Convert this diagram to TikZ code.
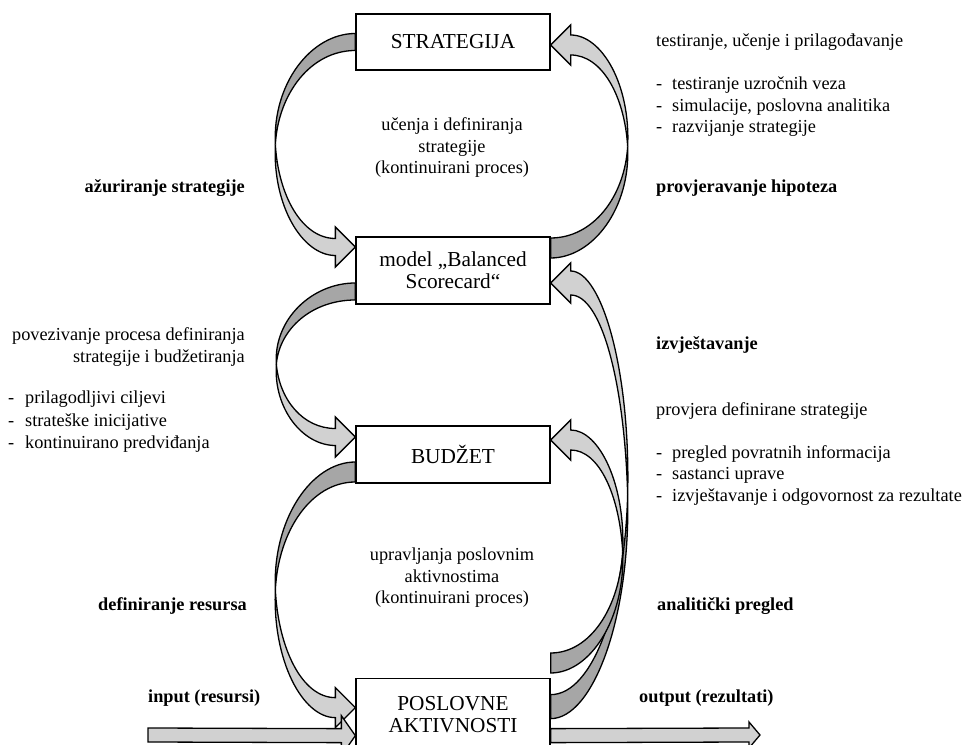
\documentclass[tikz,border=0pt]{standalone}
\usepackage{fontspec}
\setmainfont{Liberation Serif}
\usetikzlibrary{calc}
\definecolor{bandlight}{gray}{0.82}
\definecolor{banddark}{gray}{0.65}
% curved band arrow: #1 tail, #2 tip, #3 bulge (neg = left), #4 1 = up / -1 = down, #5 half width
\newcommand\ribbon[5]{%
  \path let \p1 = (#1), \p2 = (#2),
    \n1 = {#4}, \n2 = {(#3)/abs(#3)}, \n3 = {\x1+(#3)},
    \n4 = {(\y1+\y2)/2}, \n5 = {\x2+(\n2)*20}
  in coordinate (rA) at (\x1, {\y1-(\n1)*(#5)})
     coordinate (rB) at (\x1, {\y1+(\n1)*(#5)})
     coordinate (rX) at (\n3, \n4)
     coordinate (rHa) at (\n5, {\y2-(\n1)*(#5)})
     coordinate (rHb) at (\n5, {\y2+(\n1)*(#5)})
     coordinate (rBa) at (\n5, {\y2-(\n1)*20})
     coordinate (rBb) at (\n5, {\y2+(\n1)*20})
     coordinate (rP) at (\x2, \y2)
     coordinate (rA1) at ({\x1+0.55*(\n3-\x1)}, {\y1-(\n1)*(#5)})
     coordinate (rA2) at ({\n3+3*(\n2)}, {\n4+0.55*(\y1-(\n1)*(#5)-\n4)})
     coordinate (rA3) at ({\n3-3*(\n2)}, {\n4+0.55*(\y2-(\n1)*(#5)-\n4)})
     coordinate (rA4) at ({\n5+0.55*(\n3-\n5)}, {\y2-(\n1)*(#5)})
     coordinate (rB1) at ({\x1+0.55*(\n3-\x1)}, {\y1+(\n1)*(#5)})
     coordinate (rB2) at ({\n3-3*(\n2)}, {\n4+0.55*(\y1+(\n1)*(#5)-\n4)})
     coordinate (rB3) at ({\n3+3*(\n2)}, {\n4+0.55*(\y2+(\n1)*(#5)-\n4)})
     coordinate (rB4) at ({\n5+0.55*(\n3-\n5)}, {\y2+(\n1)*(#5)});
  \filldraw[banddarkstyle] (rA) .. controls (rA1) and (rA2) .. (rX) .. controls (rB2) and (rB1) .. (rB) -- cycle;
  \filldraw[bandlightstyle] (rX) .. controls (rA3) and (rA4) .. (rHa) -- (rBa) -- (rP) -- (rBb) -- (rHb) .. controls (rB4) and (rB3) .. (rX) -- cycle;
}

\begin{document}
\begin{tikzpicture}[x=1pt, y=1pt,
  box/.style={draw, line width=1.3pt, fill=white, minimum width=194pt, align=center, font=\fontsize{21.3}{22}\selectfont},
  txt/.style={inner sep=0pt, font=\fontsize{18.3}{21.5}\selectfont},
  lbl/.style={inner sep=0pt, font=\fontsize{18.3}{21.5}\selectfont\bfseries},
  bandlightstyle/.style={fill=bandlight, draw=black, line width=1.3pt},
  banddarkstyle/.style={fill=banddark, draw=black, line width=1.3pt}]

    \useasboundingbox (0,0) rectangle (966,744);
    \clip (0,0) rectangle (966,744);

    % boxes
    \node at (453, 702) [box, minimum height=56pt] (strat) {STRATEGIJA};
    \node at (453, 473.5) [box, minimum height=67pt] (bsc) {model „Balanced\\Scorecard“};
    \node at (453, 289.5) [box, minimum height=57pt] (budzet) {BUDŽET};
    \node at (453, 66) [box, minimum height=71pt, anchor=north] (poslovne) {POSLOVNE\\AKTIVNOSTI};

    % middle texts
    \node at (452, 596) [txt, align=center] (learn) {učenja i definiranja\\strategije\\(kontinuirani proces)};
    \node at (452, 166) [txt, align=center] (manage) {upravljanja poslovnim\\aktivnostima\\(kontinuirani proces)};

    % left side
    \node at (245, 556) [lbl, anchor=east] (update) {ažuriranje strategije};
    \node at (245, 417) [txt, align=right, anchor=north east, font=\fontsize{18.3}{22.5}\selectfont] (link) {povezivanje procesa definiranja\\strategije i budžetiranja};
    \node at (8, 353) [txt, align=left, anchor=north west, font=\fontsize{18.3}{22.5}\selectfont] (linklist) {\makebox[17pt][l]{-}prilagodljivi ciljevi\\\makebox[17pt][l]{-}strateške inicijative\\\makebox[17pt][l]{-}kontinuirano predviđanja};
    \node at (247, 138) [lbl, anchor=east] (resdef) {definiranje resursa};
    \node at (148, 46) [lbl, anchor=west] (input) {input (resursi)};

    % right side
    \node at (656, 710) [txt, align=left, anchor=north west] (test) {testiranje, učenje i prilagođavanje\\[21.5pt]\makebox[16pt][l]{-}testiranje uzročnih veza\\\makebox[16pt][l]{-}simulacije, poslovna analitika\\\makebox[16pt][l]{-}razvijanje strategije};
    \node at (656, 556) [lbl, anchor=west] (hypo) {provjeravanje hipoteza};
    \node at (656, 399) [lbl, anchor=west] (report) {izvještavanje};
    \node at (656, 342) [txt, align=left, anchor=north west] (check) {provjera definirane strategije\\[21.5pt]\makebox[16pt][l]{-}pregled povratnih informacija\\\makebox[16pt][l]{-}sastanci uprave\\\makebox[16pt][l]{-}izvještavanje i odgovornost za rezultate};
    \node at (657, 138) [lbl, anchor=west] (review) {analitički pregled};
    \node at (639, 46) [lbl, anchor=west] (output) {output (rezultati)};

    % curved arrows
    \ribbon{strat.west}{[yshift=23.5pt]bsc.west}{-80}{-1}{8.5}
    \ribbon{[yshift=-21pt]bsc.west}{[yshift=17.5pt]budzet.west}{-79}{-1}{8.5}
    \ribbon{[yshift=-17.5pt]budzet.west}{[yshift=6.5pt]poslovne.west}{-80}{-1}{10}
    \ribbon{[yshift=22.5pt]bsc.east}{[yshift=-3pt]strat.east}{77}{1}{10}
    \ribbon{[yshift=7.5pt]poslovne.east}{[yshift=-12.5pt]bsc.east}{77}{1}{12}
    \ribbon{[yshift=15pt]poslovne.north east}{[yshift=14.5pt]budzet.east}{72}{1}{10}

    % input and output
    \coordinate (inS) at (148, 9);
    \coordinate (inT) at ([yshift=-21.5pt]poslovne.west);
    \filldraw[bandlightstyle] ([yshift=7pt]inS) -- ([xshift=-14pt, yshift=7pt]inT) -- ([xshift=-14pt, yshift=20pt]inT) -- (inT)
        -- ([xshift=-14pt, yshift=-20pt]inT) -- ([xshift=-14pt, yshift=-7pt]inT) -- ([yshift=-7pt]inS) -- cycle;
    \coordinate (outS) at ([yshift=-21.5pt]poslovne.east);
    \coordinate (outT) at (760, 9);
    \filldraw[bandlightstyle] ([yshift=7pt]outS) -- ([xshift=-11pt, yshift=7pt]outT) -- ([xshift=-11pt, yshift=13pt]outT) -- (outT)
        -- ([xshift=-11pt, yshift=-13pt]outT) -- ([xshift=-11pt, yshift=-7pt]outT) -- ([yshift=-7pt]outS) -- cycle;

\end{tikzpicture}
\end{document}
